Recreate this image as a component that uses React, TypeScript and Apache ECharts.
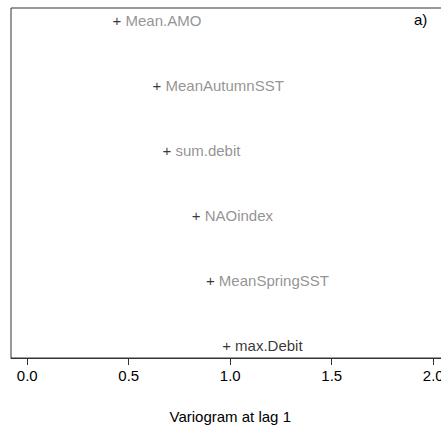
import React, { useEffect, useRef } from "react";
import * as echarts from "echarts";

// Variogram at lag 1 for each candidate covariate, listed bottom to top
const variables = ["max.Debit", "MeanSpringSST", "NAOindex", "sum.debit", "MeanAutumnSST", "Mean.AMO"];
const variogramLag1 = [0.98, 0.9, 0.83, 0.686, 0.637, 0.44];
const rank = [1, 2, 3, 4, 5, 6];
const labelColors = ["#000000", "#777777", "#777777", "#777777", "#777777", "#777777"];
const xTicks = [0, 0.5, 1, 1.5, 2];

const FONT = "Liberation Sans";
const FS = 15;

export default function App() {
  const ref = useRef<HTMLDivElement>(null);

  useEffect(() => {
    if (!ref.current) return;
    const chart = echarts.init(ref.current, undefined, { renderer: "svg" });

    const points = variables.map((name, i) => ({
      name,
      value: [variogramLag1[i], rank[i]],
      label: {
        fontSize: FS,
        fontFamily: FONT,
        rich: {
          p: { color: "#000", fontSize: FS, fontFamily: FONT },
          t: { color: labelColors[i], fontSize: FS, fontFamily: FONT },
        },
      },
    }));

    chart.setOption({
      animation: false,
      backgroundColor: "#fff",
      grid: {
        left: 11,
        top: 8,
        height: 350,
        width: 2.16 * 203,
        show: true,
        borderColor: "#333",
        borderWidth: 1,
        containLabel: false,
        outerBoundsMode: "none",
      },
      xAxis: {
        type: "value",
        min: -0.08,
        max: 2.08,
        splitLine: { show: false },
        axisLine: { show: true, lineStyle: { color: "#333" } },
        axisTick: {
          show: true,
          length: 7,
          lineStyle: { color: "#333" },
          customValues: xTicks,
        },
        axisLabel: {
          show: true,
          margin: 10,
          color: "#000",
          fontSize: FS,
          fontFamily: FONT,
          customValues: xTicks,
          formatter: (v: number) => v.toFixed(1),
        },
        name: "Variogram at lag 1",
        nameLocation: "middle",
        nameGap: 51,
        nameTextStyle: { color: "#000", fontSize: FS, fontFamily: FONT },
      },
      yAxis: {
        type: "value",
        min: 0.8,
        max: 6.2,
        show: false,
        splitLine: { show: false },
      },
      series: [
        {
          type: "scatter",
          data: points,
          symbolSize: 0,
          label: {
            show: true,
            position: "right",
            distance: 0,
            offset: [-4, 0],
            fontSize: FS,
            fontFamily: FONT,
            formatter: (p: any) => `{p|+} {t|${p.name}}`,
          },
        },
      ],
      graphic: [
        {
          type: "text",
          left: 414,
          top: 12,
          style: { text: "a)", fill: "#000", fontSize: FS, fontFamily: FONT },
        },
      ],
    });

    return () => chart.dispose();
  }, []);

  return (
    <div
      ref={ref}
      style={{ position: "absolute", left: 0, top: 0, width: 441, height: 428, overflow: "hidden" }}
    />
  );
}
